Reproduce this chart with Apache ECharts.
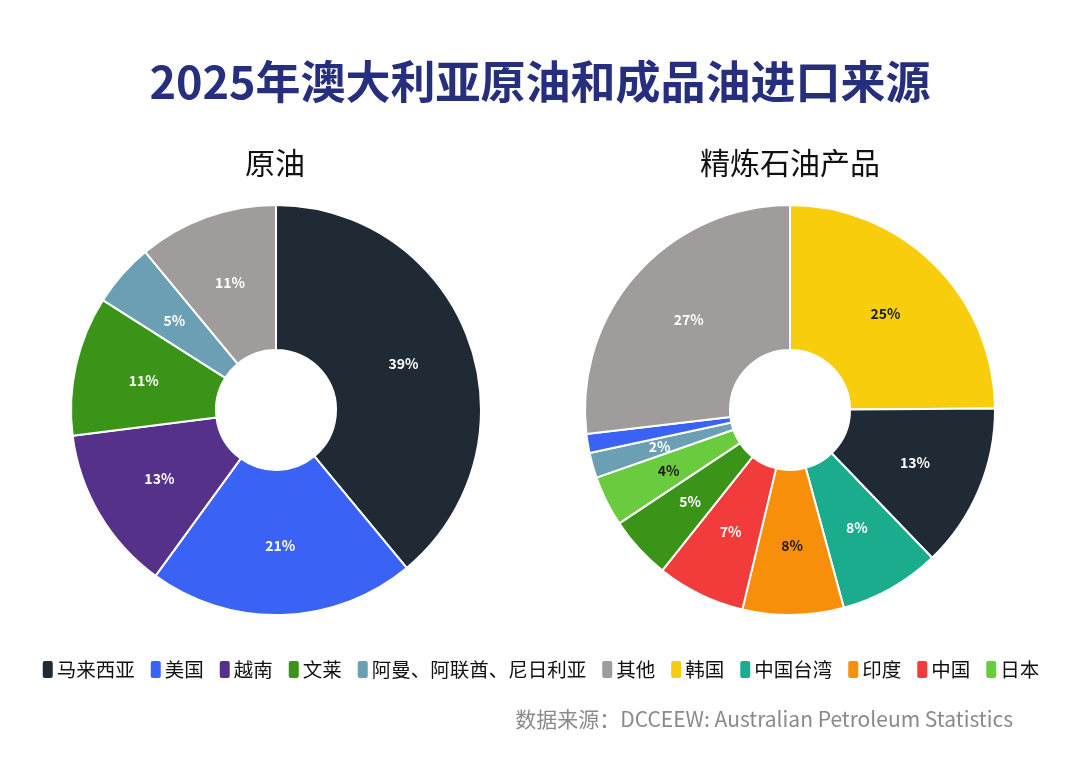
<!DOCTYPE html>
<html><head><meta charset="utf-8">
<script src="https://cdn.jsdelivr.net/npm/echarts@6/dist/echarts.min.js"></script>
<style>html,body{margin:0;padding:0;background:#fff}#c{width:1080px;height:767px}</style>
</head><body><div id="c"></div>
<script>
const titleText = '2025年澳大利亚原油和成品油进口来源';
const crudeTitle = '原油';
const refinedTitle = '精炼石油产品';
const crudeNames = ['马来西亚','美国','越南','文莱','阿曼、阿联酋、尼日利亚','其他'];
const crudeValues = [39,21,13,11,5,11];
const refinedNames = ['韩国','马来西亚','中国台湾','印度','中国','文莱','日本','阿曼、阿联酋、尼日利亚','美国','其他'];
const refinedValues = [25,13,8,8,7,5,4,2,1.5,27];
const refinedHideLabel = ['美国'];
const legendNames = ['马来西亚','美国','越南','文莱','阿曼、阿联酋、尼日利亚','其他','韩国','中国台湾','印度','中国','日本'];
const colorMap = {'马来西亚':'#1f2a35','美国':'#3a62f4','越南':'#563189','文莱':'#3a9418','阿曼、阿联酋、尼日利亚':'#6b9fb4','其他':'#a19c9c','韩国':'#f8cd0b','中国台湾':'#1bac8d','印度':'#f78f0b','中国':'#f23b3b','日本':'#6bcb3e'};
const darkLabel = ['韩国','印度','日本'];
const sourceText = '数据来源：DCCEEW: Australian Petroleum Statistics';

function mk(names, vals, hide){
  return names.map((n,i)=>({name:n,value:vals[i],itemStyle:{color:colorMap[n]},
    label:{show: !(hide||[]).includes(n), color: darkLabel.includes(n)?'#1a1a1a':'#ffffff'}}));
}
const chart = echarts.init(document.getElementById('c'));
const F = '"Noto Sans CJK SC","Noto Sans",sans-serif';
chart.setOption({
  backgroundColor:'#ffffff',
  title:[
    {text:titleText,left:'center',top:54,textStyle:{fontFamily:F,fontSize:45,fontWeight:'bold',color:'#262e7e'}},
    {text:crudeTitle,left:240,top:143,textStyle:{fontFamily:F,fontSize:30,fontWeight:'normal',color:'#111'}},
    {text:refinedTitle,left:695,top:143,textStyle:{fontFamily:F,fontSize:30,fontWeight:'normal',color:'#111'}},
    {text:sourceText,right:62,top:704,textStyle:{fontFamily:F,fontSize:21,fontWeight:'normal',color:'#8a8a8a'}}
  ],
  legend:{data:legendNames,left:'center',top:654,itemWidth:12,itemHeight:19,itemGap:14,
    icon:'roundRect',
    textStyle:{fontFamily:F,fontSize:19.5,color:'#111',padding:[0,0,0,-2]}},
  series:[
    {type:'pie',center:[276,410],radius:[60,205],startAngle:90,clockwise:true,
     itemStyle:{borderColor:'#fff',borderWidth:2},
     label:{position:'inside',formatter:p=>Math.round(p.value)+'%',fontFamily:F,fontSize:14,fontWeight:'bold'},
     labelLine:{show:false},emphasis:{disabled:true},
     data:mk(crudeNames,crudeValues)},
    {type:'pie',center:[790,410],radius:[60,205],startAngle:90,clockwise:true,
     itemStyle:{borderColor:'#fff',borderWidth:2},
     label:{position:'inside',formatter:p=>Math.round(p.value)+'%',fontFamily:F,fontSize:14,fontWeight:'bold'},
     labelLine:{show:false},emphasis:{disabled:true},
     data:mk(refinedNames,refinedValues,refinedHideLabel)}
  ]
});
</script></body></html>
